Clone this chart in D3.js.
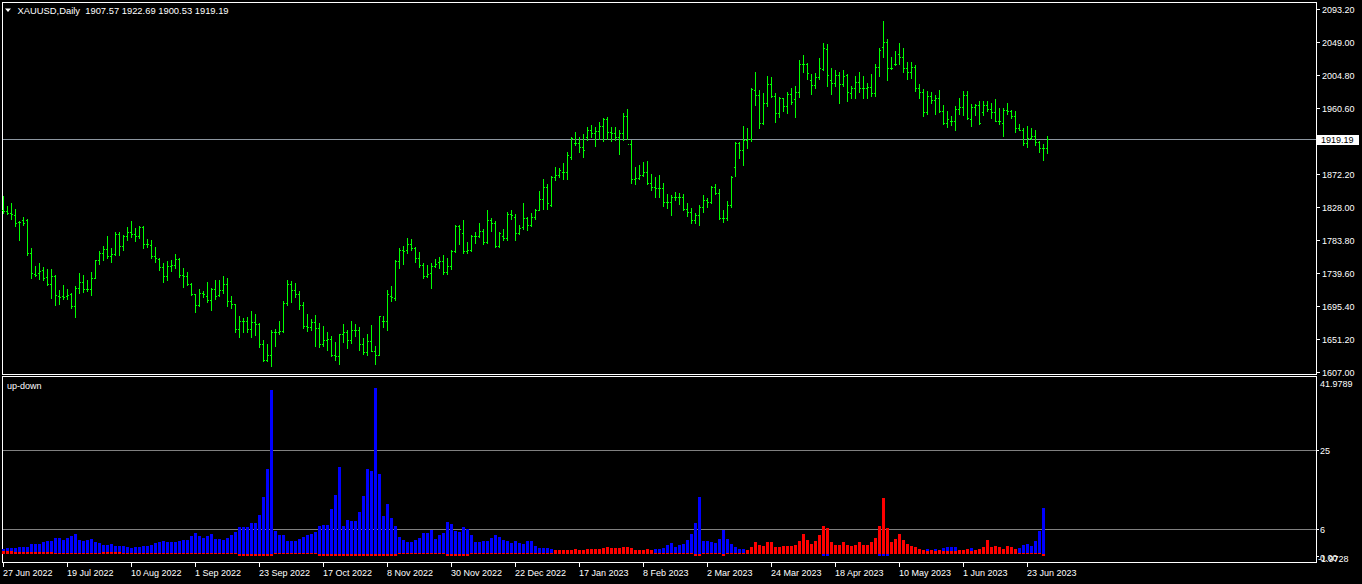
<!DOCTYPE html>
<html><head><meta charset="utf-8">
<script src="https://cdn.jsdelivr.net/npm/d3@7"></script>
<style>
html,body{margin:0;padding:0;background:#000;overflow:hidden}
svg{display:block}
text{font-family:"Liberation Sans",Arial,sans-serif;font-size:9px;fill:#fff;white-space:pre}
</style></head><body>
<svg id="c" width="1362" height="584"></svg>
<script>
const symbolTitle = "XAUUSD,Daily";
const lastOHLC = [1907.57, 1922.69, 1900.53, 1919.19];
const indicatorName = "up-down";
const dateLabels = ["27 Jun 2022","19 Jul 2022","10 Aug 2022","1 Sep 2022","23 Sep 2022","17 Oct 2022","8 Nov 2022","30 Nov 2022","22 Dec 2022","17 Jan 2023","8 Feb 2023","2 Mar 2023","24 Mar 2023","18 Apr 2023","10 May 2023","1 Jun 2023","23 Jun 2023"];
const labelEvery = 16;
const priceTicks = [1607.00,1651.20,1695.40,1739.60,1783.80,1828.00,1872.20,1960.60,2004.80,2049.00,2093.20];
const indLevels = [25, 6];
const indRange = [-1.9728, 41.9789];

const open = [1824.4,1822.2,1820.8,1817.3,1807.9,1811.0,1810.1,1766.4,1738.7,1739.6,
1744.0,1734.2,1725.3,1736.0,1709.2,1708.3,1709.2,1711.9,1695.8,1719.5,
1727.1,1718.1,1718.1,1732.9,1756.5,1766.4,1771.7,1761.9,1765.5,1792.3,
1775.3,1789.6,1794.0,1792.3,1789.6,1801.2,1778.9,1777.5,1761.9,1758.3,
1747.6,1736.0,1748.5,1750.7,1758.3,1737.3,1736.0,1725.3,1711.9,1697.2,
1712.8,1709.2,1702.9,1718.1,1710.1,1717.3,1725.3,1702.1,1698.1,1664.6,
1675.7,1675.7,1664.6,1673.5,1671.3,1644.9,1623.5,1630.2,1660.1,1660.1,
1661.4,1699.4,1725.3,1717.3,1711.9,1697.2,1668.1,1667.2,1673.5,1665.9,
1644.9,1650.3,1651.2,1630.2,1627.9,1658.3,1661.0,1650.3,1662.8,1663.7,
1644.9,1633.3,1648.0,1635.1,1630.2,1675.3,1674.8,1709.2,1706.1,1756.1,
1769.9,1770.8,1778.9,1773.1,1759.7,1750.3,1736.0,1739.6,1748.5,1753.9,
1755.2,1740.5,1749.4,1769.0,1802.1,1793.2,1768.6,1770.8,1788.7,1789.6,
1795.4,1780.7,1810.1,1807.4,1776.2,1788.7,1786.0,1819.1,1814.6,1793.2,
1801.2,1813.2,1804.3,1814.6,1824.4,1838.7,1854.7,1830.6,1868.1,1871.3,
1875.7,1875.7,1894.9,1914.6,1914.6,1908.3,1921.7,1931.5,1927.1,1930.6,
1936.9,1945.8,1929.3,1928.0,1922.6,1928.0,1950.3,1912.3,1865.5,1866.8,
1871.3,1875.7,1861.0,1855.6,1853.4,1854.3,1835.5,1835.5,1841.3,1842.2,
1841.3,1825.3,1822.1,1811.0,1817.2,1828.8,1836.9,1835.5,1854.7,1847.6,
1813.2,1813.2,1830.6,1882.4,1913.7,1904.7,1918.1,1919.0,1985.1,1978.4,
1941.4,1967.3,1993.2,1977.1,1954.8,1973.9,1964.1,1979.3,1973.1,1982.9,
2019.5,2019.5,1998.5,1991.8,2003.0,2013.3,2040.1,1998.5,1994.1,2005.2,
1992.7,2005.2,1980.7,1988.3,1996.3,1988.3,1988.3,1989.6,1980.7,2016.4,
2043.2,2049.9,2015.1,2019.5,2032.9,2029.8,2014.2,2009.7,2016.4,1988.3,
1982.0,1956.1,1977.1,1971.7,1974.9,1957.5,1940.5,1943.6,1943.6,1959.7,
1962.8,1978.4,1946.3,1962.8,1965.0,1956.1,1965.0,1959.7,1955.2,1943.6,
1940.5,1958.3,1957.0,1950.8,1934.7,1932.0,1913.7,1921.3,1924.0,1915.9,
1907.9,1907.57];
const high = [1842.3,1829.8,1833.3,1825.3,1808.8,1814.6,1811.9,1773.1,1749.4,1753.0,
1747.6,1744.9,1744.9,1736.9,1717.3,1723.5,1718.1,1712.8,1721.7,1739.6,
1737.3,1729.8,1740.5,1757.4,1768.6,1776.2,1788.7,1773.1,1794.9,1794.0,
1790.9,1801.2,1808.8,1799.9,1803.0,1803.0,1785.1,1783.3,1773.9,1759.7,
1753.0,1755.2,1756.5,1765.5,1760.1,1745.8,1740.9,1726.2,1711.9,1718.1,
1715.0,1728.0,1719.5,1730.6,1730.6,1735.1,1732.4,1708.3,1698.1,1681.5,
1679.3,1680.6,1689.1,1685.1,1672.6,1650.3,1644.9,1663.7,1664.6,1675.7,
1702.5,1730.6,1728.4,1726.2,1715.9,1701.2,1685.1,1678.4,1683.8,1672.6,
1669.0,1661.0,1654.7,1646.7,1658.3,1671.7,1663.7,1675.7,1671.7,1667.2,
1652.1,1658.3,1670.4,1642.2,1682.4,1682.4,1717.3,1722.6,1757.4,1773.5,
1776.2,1786.5,1785.1,1774.4,1768.2,1753.4,1750.3,1753.0,1758.3,1761.0,
1763.7,1760.1,1770.8,1803.9,1804.3,1811.0,1781.5,1790.5,1794.9,1807.4,
1798.5,1824.4,1813.2,1808.8,1794.5,1798.5,1821.7,1824.4,1819.1,1804.3,
1833.3,1814.6,1820.8,1825.3,1849.8,1865.9,1859.2,1869.9,1881.5,1880.2,
1887.8,1902.1,1921.7,1928.9,1921.7,1926.2,1936.0,1938.2,1936.0,1942.7,
1947.6,1948.5,1935.1,1936.0,1931.5,1954.8,1959.2,1918.1,1882.4,1884.2,
1889.1,1890.5,1872.6,1869.0,1870.8,1860.1,1845.8,1844.5,1848.5,1847.6,
1845.8,1834.2,1826.6,1820.8,1830.6,1844.5,1840.0,1856.5,1859.2,1852.1,
1824.4,1836.0,1869.9,1915.9,1915.5,1936.9,1933.8,1987.3,2009.2,1985.1,
1980.7,2003.9,2003.0,1980.7,1975.3,1973.9,1982.9,1988.3,1990.9,2025.3,
2032.0,2020.9,2006.1,2007.5,2028.4,2048.1,2047.2,2015.1,2011.9,2008.8,
2011.9,2006.1,1990.9,2004.3,2009.7,2004.3,1995.0,2006.1,2019.5,2040.9,
2077.6,2053.5,2029.3,2037.4,2048.1,2040.9,2022.2,2023.1,2018.6,1992.7,
1986.5,1983.8,1982.0,1978.4,1985.1,1965.0,1957.0,1950.8,1963.7,1974.9,
1983.8,1983.8,1965.9,1966.8,1970.4,1970.4,1970.4,1968.2,1972.6,1961.5,
1960.6,1968.2,1958.3,1957.0,1940.0,1934.7,1936.9,1933.8,1931.1,1916.8,
1912.8,1922.69];
const low = [1820.8,1818.2,1811.9,1802.1,1784.2,1804.3,1764.1,1732.9,1736.0,1731.5,
1730.6,1723.9,1706.1,1697.2,1698.5,1704.8,1704.8,1692.2,1680.2,1712.8,
1713.7,1715.0,1710.5,1732.9,1752.1,1757.4,1759.7,1753.9,1764.1,1764.1,
1769.9,1783.3,1787.8,1782.0,1786.5,1773.1,1774.4,1759.7,1754.8,1744.0,
1727.1,1730.6,1741.8,1746.3,1734.2,1720.4,1723.9,1710.1,1687.8,1694.9,
1707.4,1700.3,1690.5,1704.8,1709.2,1712.8,1695.8,1692.7,1660.1,1653.4,
1660.1,1660.1,1653.4,1656.1,1640.5,1621.3,1621.3,1614.6,1641.3,1658.3,
1660.1,1697.2,1700.3,1707.0,1691.4,1665.9,1661.4,1663.7,1642.2,1640.5,
1641.3,1636.9,1627.9,1623.5,1617.2,1646.7,1638.7,1645.8,1654.7,1636.9,
1631.5,1630.2,1634.6,1617.2,1629.7,1667.2,1663.7,1701.6,1703.9,1746.7,
1752.1,1766.4,1769.9,1753.9,1747.6,1732.4,1734.2,1719.0,1747.6,1745.8,
1738.7,1737.8,1744.9,1767.3,1778.0,1766.4,1766.4,1769.0,1779.8,1787.8,
1778.9,1779.8,1795.4,1774.4,1774.4,1784.2,1784.2,1811.9,1784.2,1791.4,
1798.5,1796.7,1802.1,1811.9,1823.5,1825.3,1825.3,1829.7,1864.6,1869.0,
1866.3,1866.3,1892.2,1911.4,1902.5,1895.8,1918.1,1921.7,1910.1,1919.0,
1916.4,1919.0,1916.4,1918.1,1899.4,1918.1,1919.0,1861.0,1859.2,1865.5,
1869.9,1859.2,1851.2,1842.2,1842.2,1829.7,1827.1,1817.7,1836.9,1832.4,
1823.5,1816.3,1807.4,1806.5,1804.7,1822.1,1828.8,1834.2,1845.8,1811.9,
1808.7,1811.0,1828.8,1869.9,1894.0,1884.6,1907.0,1917.2,1965.0,1933.8,
1939.6,1963.7,1975.3,1942.7,1948.5,1957.4,1954.8,1965.9,1949.4,1976.2,
2009.7,1999.9,1980.2,1988.3,1999.9,2012.4,1990.9,1980.2,1990.9,1968.2,
1990.0,1970.4,1974.0,1974.9,1982.0,1974.0,1974.9,1976.7,1977.5,2004.3,
2029.8,1998.5,2013.3,2018.6,2019.5,2009.7,1999.9,2000.8,1983.8,1974.9,
1950.8,1953.4,1967.3,1953.4,1956.1,1939.1,1936.0,1938.3,1931.6,1952.5,
1951.7,1946.3,1937.4,1951.7,1939.1,1951.7,1957.0,1948.1,1943.6,1940.0,
1924.0,1952.5,1947.2,1929.3,1931.6,1911.5,1909.2,1919.5,1911.5,1902.5,
1891.8,1900.53];
const close = [1822.2,1820.8,1818.6,1806.5,1807.9,1806.5,1766.4,1739.6,1737.3,1741.8,
1732.9,1725.3,1736.0,1710.5,1707.4,1707.4,1710.5,1695.8,1719.5,1727.1,
1718.1,1718.1,1732.9,1756.5,1766.4,1771.7,1761.9,1765.5,1792.3,1775.3,
1789.6,1794.0,1792.3,1789.6,1801.2,1778.9,1778.9,1761.9,1759.7,1747.6,
1736.0,1748.5,1750.7,1758.3,1737.3,1736.0,1725.3,1711.9,1697.2,1712.8,
1711.9,1702.9,1718.1,1708.3,1717.3,1725.3,1702.1,1698.1,1664.6,1675.7,
1675.7,1664.6,1673.5,1671.3,1644.9,1623.5,1630.2,1660.1,1660.1,1661.4,
1699.4,1725.3,1717.3,1711.9,1697.2,1668.1,1667.2,1673.5,1665.9,1644.9,
1650.3,1651.2,1630.2,1627.9,1658.3,1661.0,1650.3,1662.8,1663.7,1644.9,
1633.3,1648.0,1635.1,1630.2,1681.5,1674.8,1711.9,1707.4,1756.1,1770.8,
1768.6,1778.9,1773.1,1759.7,1750.3,1736.0,1738.7,1748.5,1752.1,1755.2,
1740.5,1749.4,1769.0,1803.0,1798.5,1768.6,1770.8,1788.7,1789.6,1795.4,
1780.7,1810.1,1807.4,1776.2,1793.2,1786.0,1819.1,1817.3,1793.2,1799.4,
1813.2,1804.3,1814.6,1824.4,1838.7,1854.7,1833.3,1868.1,1871.3,1878.0,
1875.7,1898.1,1920.4,1914.6,1908.3,1904.7,1931.5,1927.1,1930.6,1936.9,
1945.8,1929.3,1928.0,1922.6,1928.0,1950.3,1912.3,1865.5,1866.8,1871.3,
1875.7,1861.0,1855.6,1853.4,1854.3,1835.5,1835.5,1841.3,1842.2,1841.3,
1825.3,1822.1,1811.0,1817.2,1828.8,1836.9,1835.5,1854.7,1847.6,1813.2,
1813.2,1830.6,1868.1,1914.6,1904.7,1918.1,1919.0,1986.0,1978.4,1941.4,
1967.3,1993.2,1977.1,1954.8,1973.9,1964.1,1979.8,1968.6,1982.9,2019.5,
2019.5,2007.5,1991.8,2003.0,2014.2,2040.9,2005.2,1994.1,2005.2,1992.7,
2004.3,1982.0,1988.3,1996.3,1988.3,1988.3,1989.6,1980.7,2016.4,2038.7,
2049.9,2015.1,2015.1,2019.5,2029.8,2014.2,2009.7,2016.4,1988.3,1982.0,
1956.1,1977.1,1971.7,1974.9,1957.5,1940.5,1946.3,1943.6,1959.7,1962.8,
1978.4,1948.1,1962.8,1965.0,1940.5,1965.0,1959.7,1955.2,1943.6,1943.6,
1958.3,1957.0,1950.8,1934.7,1932.0,1913.7,1921.3,1924.0,1915.9,1907.9,
1907.0,1919.19];

const upBuffer = [1.19,1.43,1.43,1.43,1.67,1.67,1.67,2.47,2.47,2.47,
2.95,3.11,3.11,3.83,3.83,3.43,3.83,4.39,4.87,3.43,
3.27,3.43,3.59,2.87,2.63,2.23,2.23,2.47,1.99,1.99,
1.99,1.67,1.51,1.67,1.67,1.99,1.99,2.15,2.63,2.95,
3.27,3.03,2.95,2.95,3.11,3.43,3.43,4.39,5.03,4.39,
3.99,4.39,4.87,3.59,3.59,3.43,3.91,4.55,5.35,6.47,
6.47,6.47,7.43,7.43,9.35,13.67,20.40,39.50,5.51,4.55,
4.55,3.11,3.11,3.11,3.59,4.07,4.55,4.87,5.27,6.79,
6.95,6.95,10.79,14.15,20.88,6.79,8.23,7.91,7.91,10.15,
13.99,20.40,19.92,40.10,19.28,9.19,12.07,8.71,6.79,4.07,
3.43,2.95,2.95,3.43,3.91,5.03,5.03,5.83,3.75,4.55,
5.03,7.75,7.27,5.51,5.35,6.47,5.99,4.55,2.87,2.95,
3.11,3.11,3.91,4.55,4.07,3.43,3.11,2.63,3.11,2.63,
2.47,3.11,3.11,1.99,1.51,1.51,1.51,1.19,0,0,
0,0,0,0,0,0,0,0,0,0,
0,0,0,0,0,0,0,0,0,0,
0,0,0,1.19,1.19,1.51,2.15,2.63,1.67,2.15,
2.47,3.43,4.87,7.43,13.67,3.11,3.11,2.95,2.63,3.59,
5.83,3.59,2.47,1.67,1.19,1.19,0,0,0,0,
0,0,0,0,0,0,0,0,0,0,
0,0,0,0,0,-0.4,-0.4,0,0,0,
0,0,0,0,0,0,0,0,0,-0.4,
-0.4,-0.4,0,0,0,0,0,0,0,0,
0,1.27,0,1.27,0,1.51,1.67,1.67,1.67,0,
0,0,1.51,0,0,0,0,0,0,0,
0,0,0,0,1.51,2.31,2.47,1.99,3.11,5.51,
11.13,0];
const downBuffer = [0.7,0.7,0.7,0.6,0.6,0.6,0.6,0.6,0.5,0.5,
0.5,0.5,0.5,0.4,0.3,0.3,0.3,0.3,0.3,0.3,
0.3,0.3,0.3,0.3,0.3,0.5,0.5,0.5,0.5,0.5,
0.4,0.3,0.3,0.3,0.3,0.3,0.3,0.3,0.3,0.3,
0.3,0.3,0.3,0.3,0.3,0.3,0.3,0.3,0.3,0.3,
0.3,0.3,0.3,0.3,0.3,0.3,0.3,0.3,0.3,-0.3,
-0.3,-0.3,-0.3,-0.3,-0.3,-0.3,-0.3,-0.3,0.3,0.3,
0.3,0.3,0.3,0.3,0.3,0.3,0.3,0.3,0.3,-0.3,
-0.3,-0.3,-0.3,-0.3,-0.3,-0.3,-0.3,-0.3,-0.3,-0.3,
-0.3,-0.3,-0.3,-0.3,-0.3,-0.3,-0.3,-0.3,-0.3,0.3,
0.3,0.3,0.3,0.3,0.3,0.3,0.3,0.3,0.3,0.3,
0.3,-0.3,-0.3,-0.3,-0.3,-0.3,-0.3,0.3,0.3,0.3,
0.3,0.3,0.3,0.3,0.3,0.3,0.3,0.3,0.3,0.3,
0.3,0.3,0.3,0.3,0.3,0.3,0.3,0.3,1.03,1.03,
1.03,1.03,1.03,1.19,1.03,1.03,1.19,1.19,1.19,1.35,
1.51,1.67,1.51,1.51,1.51,1.67,1.67,1.43,1.03,1.03,
1.03,1.19,1.03,0.3,0.3,0.3,0.3,0.3,0.3,0.3,
0.3,0.3,0.3,-0.3,-0.3,0.3,0.3,0.3,0.3,0.3,
-0.3,0.3,0.3,0.3,0.3,0.3,1.03,1.67,2.95,2.31,
1.99,2.95,2.95,1.67,1.67,1.99,1.99,1.99,2.15,3.11,
4.87,3.43,2.47,3.11,4.55,6.79,6.31,2.95,2.31,2.31,
2.95,2.31,1.99,2.31,2.95,2.31,2.31,2.95,3.91,6.79,
13.51,6.31,2.95,3.59,4.87,3.43,2.47,1.99,1.67,1.19,
1.03,0.9,1.03,0.9,1.03,0.9,0.9,0.9,0.9,1.03,
1.03,1.19,0.9,1.03,1.19,1.67,3.43,1.67,1.99,1.67,
1.19,1.99,1.67,1.19,0.3,0.3,0.3,0.3,0.3,0.3,
-0.4,0];

const svg = d3.select("#c");
const N = close.length;
const x = d3.scaleLinear().domain([0, N - 1]).range([3, 3 + 4 * (N - 1)]);
const y = d3.scaleLinear().domain([1607, 2093.2]).range([372, 9.3]);
const yI = d3.scaleLinear().domain(indRange).range([562.5, 379.7]);
const px = v => Math.round(v);
const LEFT = 2, RIGHT = 1316;

// frames
const g = svg.append("g").attr("shape-rendering", "crispEdges");
g.append("rect").attr("x", LEFT + 0.5).attr("y", 2.5).attr("width", RIGHT - LEFT).attr("height", 372)
  .attr("fill", "none").attr("stroke", "#fff");
g.append("rect").attr("x", LEFT + 0.5).attr("y", 376.5).attr("width", RIGHT - LEFT).attr("height", 186)
  .attr("fill", "none").attr("stroke", "#fff");

// bid line
const lastClose = close[N - 1];
g.append("line").attr("x1", LEFT + 1).attr("x2", RIGHT).attr("y1", px(y(lastClose)) + 0.5).attr("y2", px(y(lastClose)) + 0.5)
  .attr("stroke", "#8c96a0");

// indicator levels
indLevels.forEach(v => {
  g.append("line").attr("x1", LEFT + 1).attr("x2", RIGHT).attr("y1", px(yI(v)) + 0.5).attr("y2", px(yI(v)) + 0.5)
    .attr("stroke", "#808080");
});

// histogram
const idx = d3.range(N);
function hist(data, color) {
  g.append("g").selectAll("rect").data(idx.filter(i => data[i] !== 0)).join("rect")
    .attr("x", i => px(x(i)) - 1)
    .attr("width", 3)
    .attr("y", i => px(yI(Math.max(0, data[i]))))
    .attr("height", i => Math.max(1, px(yI(Math.min(0, data[i]))) - px(yI(Math.max(0, data[i])))))
    .attr("fill", color);
}
hist(upBuffer, "#0000ff");
hist(downBuffer, "#ff0000");

// OHLC bars
const bars = g.append("g").attr("fill", "#00ff00");
bars.selectAll("rect.v").data(idx).join("rect").attr("class", "v")
  .attr("x", i => px(x(i))).attr("width", 1)
  .attr("y", i => px(y(high[i])))
  .attr("height", i => px(y(low[i])) - px(y(high[i])) + 1);
bars.selectAll("rect.o").data(idx).join("rect").attr("class", "o")
  .attr("x", i => px(x(i)) - 1).attr("width", 1)
  .attr("y", i => px(y(open[i]))).attr("height", 1);
bars.selectAll("rect.c").data(idx).join("rect").attr("class", "c")
  .attr("x", i => px(x(i)) + 1).attr("width", 1)
  .attr("y", i => px(y(close[i]))).attr("height", 1);

// price axis
const ax = svg.append("g");
priceTicks.forEach(v => {
  const yy = px(y(v));
  g.append("rect").attr("x", RIGHT + 1).attr("y", yy).attr("width", 3).attr("height", 1).attr("fill", "#fff");
  ax.append("text").attr("x", 1322).attr("y", yy + 3.5).text(d3.format(".2f")(v));
});
// current price box
const yb = px(y(lastClose));
ax.append("rect").attr("x", RIGHT + 1).attr("y", yb - 4).attr("width", 42).attr("height", 10).attr("fill", "#fff");
ax.append("text").attr("x", 1321).attr("y", yb + 4).style("fill", "#000").text(d3.format(".2f")(lastClose));

// indicator axis
const indLabels = [[indRange[1], 386.5, "41.9789"], [25, null, "25"], [6, null, "6"], [0, 561, "0.00"], [indRange[0], 562, "-1.9728"]];
indLabels.forEach(([v, by, t]) => {
  const yy = px(yI(v));
  if (v === 25 || v === 6) g.append("rect").attr("x", RIGHT + 1).attr("y", yy).attr("width", 2).attr("height", 1).attr("fill", "#fff");
  ax.append("text").attr("x", t.startsWith("-") ? 1318 : 1320).attr("y", by != null ? by : yy + 3.5).text(t);
});
g.append("rect").attr("x", RIGHT + 1).attr("y", 556).attr("width", 2).attr("height", 1).attr("fill", "#fff");

// time axis
dateLabels.forEach((t, k) => {
  const xx = px(x(k * labelEvery));
  g.append("rect").attr("x", xx).attr("y", 563).attr("width", 1).attr("height", 4).attr("fill", "#fff");
  ax.append("text").attr("x", xx).attr("y", 576).text(t);
});

// title
ax.append("path").attr("d", "M5,8.5 L11,8.5 L8,12 Z").attr("fill", "#fff");
ax.append("text").attr("x", 17.5).attr("y", 13.5).style("font-size", "9.4px")
  .text(symbolTitle + "  " + lastOHLC.map(d3.format(".2f")).join(" "));
ax.append("text").attr("x", 7).attr("y", 389).text(indicatorName);
</script>
</body></html>
